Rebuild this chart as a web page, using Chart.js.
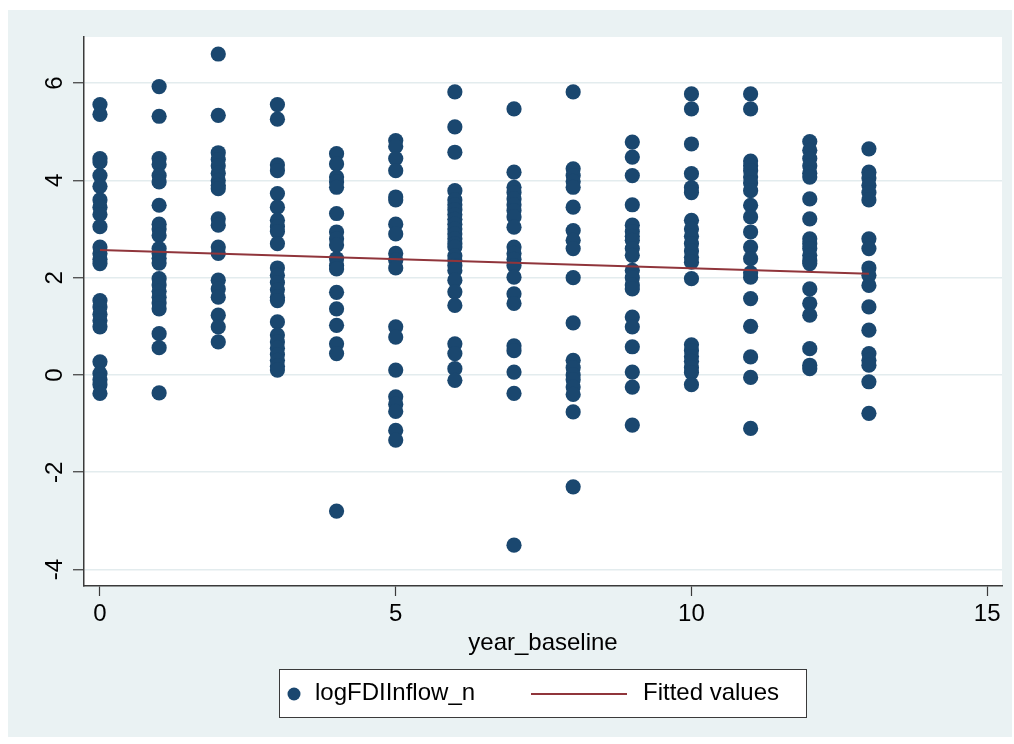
<!DOCTYPE html>
<html>
<head>
<meta charset="utf-8">
<script src="https://cdn.jsdelivr.net/npm/chart.js@4"></script>
<style>
  html, body { margin: 0; padding: 0; background: #ffffff; }
  #wrap { width: 1014px; height: 744px; position: relative; }
</style>
</head>
<body>
<div id="wrap"><canvas id="fdiChart"></canvas></div>
<script>
// year_baseline categories
const years = [0, 1, 2, 3, 4, 5, 6, 7, 8, 9, 10, 11, 12, 13];

// logFDIInflow_n values, one list per year
const logFDI = [
    [5.56, 5.36, 4.45, 4.38, 4.1, 3.88, 3.6, 3.45, 3.3, 3.05, 2.63, 2.5, 2.38, 2.29, 1.53, 1.4, 1.25, 1.12, 0.99, 0.27, 0.03, -0.1, -0.2, -0.38],
    [5.93, 5.32, 4.45, 4.33, 4.1, 3.97, 3.49, 3.1, 3.0, 2.87, 2.6, 2.5, 2.4, 2.3, 1.98, 1.85, 1.72, 1.6, 1.48, 1.36, 0.85, 0.56, -0.37],
    [6.6, 5.34, 4.57, 4.43, 4.3, 4.15, 4.0, 3.9, 3.83, 3.21, 3.08, 2.63, 2.5, 1.95, 1.77, 1.6, 1.23, 0.99, 0.68],
    [5.56, 5.26, 4.32, 4.2, 3.73, 3.45, 3.18, 3.05, 2.95, 2.7, 2.2, 2.05, 1.9, 1.75, 1.6, 1.53, 1.09, 0.82, 0.68, 0.55, 0.42, 0.3, 0.18, 0.1],
    [4.55, 4.34, 4.07, 3.97, 3.86, 3.32, 2.94, 2.8, 2.67, 2.39, 2.25, 2.18, 1.7, 1.36, 1.02, 0.64, 0.44, -2.8],
    [4.82, 4.7, 4.45, 4.2, 3.66, 3.6, 3.1, 2.9, 2.5, 2.36, 2.2, 0.99, 0.78, 0.1, -0.45, -0.6, -0.75, -1.14, -1.34],
    [5.82, 5.1, 4.58, 3.79, 3.6, 3.5, 3.4, 3.3, 3.2, 3.1, 3.0, 2.9, 2.8, 2.7, 2.63, 2.45, 2.36, 2.25, 2.15, 1.95, 1.71, 1.43, 0.64, 0.44, 0.13, -0.11],
    [5.47, 4.17, 3.86, 3.75, 3.62, 3.5, 3.38, 3.25, 3.04, 2.63, 2.5, 2.38, 2.25, 2.01, 1.67, 1.47, 0.6, 0.5, 0.06, -0.38, -3.5],
    [5.82, 4.24, 4.1, 3.98, 3.86, 3.45, 2.97, 2.77, 2.6, 2.0, 1.07, 0.3, 0.15, 0.0, -0.1, -0.25, -0.4, -0.76, -2.3],
    [4.79, 4.48, 4.1, 3.5, 3.08, 2.95, 2.85, 2.77, 2.6, 2.46, 2.15, 2.0, 1.85, 1.77, 1.19, 0.99, 0.58, 0.06, -0.25, -1.03],
    [5.78, 5.47, 4.75, 4.14, 3.85, 3.75, 3.18, 3.0, 2.85, 2.7, 2.55, 2.42, 2.32, 1.98, 0.62, 0.5, 0.38, 0.28, 0.15, 0.05, -0.2],
    [5.78, 5.47, 4.4, 4.3, 4.2, 4.07, 3.95, 3.79, 3.49, 3.25, 2.94, 2.63, 2.39, 2.1, 2.01, 1.57, 1.0, 0.37, -0.05, -1.1],
    [4.8, 4.62, 4.45, 4.3, 4.15, 4.07, 3.62, 3.21, 2.8, 2.7, 2.6, 2.46, 2.35, 2.29, 1.77, 1.47, 1.23, 0.54, 0.2, 0.13],
    [4.65, 4.17, 4.05, 3.9, 3.75, 3.6, 2.8, 2.6, 2.2, 2.05, 1.84, 1.4, 0.92, 0.44, 0.3, 0.2, -0.14, -0.79]
];

// fitted values (linear fit endpoints)
const fitX = [0, 13];
const fitY = [2.57, 2.08];

// tick labels
const xTicks = [0, 5, 10, 15];
const yTicks = [-4, -2, 0, 2, 4, 6];

const navy = '#1A476F';
const maroon = '#90353B';
const panelColor = '#EAF2F3';
const axisColor = '#3a3a3a';
const font = '"Liberation Sans", Arial, Helvetica, sans-serif';
const fontSize = 24;

const scatterPoints = [];
years.forEach((yr, i) => {
    logFDI[i].forEach(v => scatterPoints.push({ x: yr, y: v }));
});
const fitPoints = fitX.map((x, i) => ({ x: x, y: fitY[i] }));

// Stata-like background, custom rotated y labels and boxed legend
const stataLook = {
    id: 'stataLook',
    beforeDraw(chart) {
        const { ctx, chartArea } = chart;
        ctx.save();
        ctx.fillStyle = '#ffffff';
        ctx.fillRect(0, 0, chart.width, chart.height);
        ctx.fillStyle = panelColor;
        ctx.fillRect(8, 10, 1004, 727);
        ctx.fillStyle = '#ffffff';
        ctx.fillRect(chartArea.left, chartArea.top, chartArea.right - chartArea.left, chartArea.bottom - chartArea.top);
        ctx.restore();
    },
    afterDraw(chart) {
        const { ctx } = chart;
        const yScale = chart.scales.y;
        ctx.save();
        // y tick labels, rotated
        ctx.fillStyle = '#000000';
        ctx.font = fontSize + 'px ' + font;
        ctx.textAlign = 'center';
        ctx.textBaseline = 'middle';
        yScale.ticks.forEach(t => {
            const py = yScale.getPixelForValue(t.value);
            ctx.save();
            ctx.translate(55, py);
            ctx.rotate(-Math.PI / 2);
            ctx.fillText(String(t.value), 0, 0);
            ctx.restore();
        });

        // legend box
        const bx = 279, by = 669, bw = 527, bh = 48;
        ctx.fillStyle = '#ffffff';
        ctx.fillRect(bx, by, bw, bh);
        ctx.strokeStyle = axisColor;
        ctx.lineWidth = 1;
        ctx.strokeRect(bx + 0.5, by + 0.5, bw, bh);

        const dsDots = chart.data.datasets[1];
        const dsFit = chart.data.datasets[0];
        const cy = by + bh / 2;
        ctx.fillStyle = dsDots.backgroundColor;
        ctx.beginPath();
        ctx.arc(294, cy + 1, 6.5, 0, Math.PI * 2);
        ctx.fill();
        ctx.fillStyle = '#000000';
        ctx.textAlign = 'left';
        ctx.fillText(dsDots.label, 315, cy);

        ctx.strokeStyle = dsFit.borderColor;
        ctx.lineWidth = 2;
        ctx.beginPath();
        ctx.moveTo(531, cy + 1);
        ctx.lineTo(627, cy + 1);
        ctx.stroke();
        ctx.fillText(dsFit.label, 643, cy);
        ctx.restore();
    }
};

const ctxEl = document.getElementById('fdiChart');
new Chart(ctxEl, {
    type: 'scatter',
    data: {
        datasets: [
            {
                type: 'line',
                label: 'Fitted values',
                data: fitPoints,
                borderColor: maroon,
                backgroundColor: maroon,
                borderWidth: 2,
                pointRadius: 0,
                fill: false,
                order: 0
            },
            {
                label: 'logFDIInflow_n',
                data: scatterPoints,
                backgroundColor: navy,
                borderColor: navy,
                borderWidth: 0,
                pointRadius: 7.6,
                pointHoverRadius: 7.6,
                order: 1
            }
        ]
    },
    options: {
        responsive: true,
        maintainAspectRatio: false,
        animation: false,
        events: [],
        layout: { padding: { left: 0, right: 12, top: 37, bottom: 0 } },
        plugins: {
            legend: { display: false },
            tooltip: { enabled: false }
        },
        scales: {
            x: {
                type: 'linear',
                min: -0.27,
                max: 15.25,
                afterBuildTicks: axis => { axis.ticks = xTicks.map(v => ({ value: v })); },
                afterFit: axis => { axis.height = 158; },
                grid: {
                    drawOnChartArea: false,
                    drawTicks: true,
                    tickLength: 10,
                    tickColor: axisColor,
                    tickWidth: 1.2
                },
                border: { color: axisColor, width: 1.5 },
                ticks: {
                    color: '#000000',
                    padding: 4,
                    maxRotation: 0,
                    font: { family: font, size: fontSize }
                },
                title: {
                    display: true,
                    text: 'year_baseline',
                    color: '#000000',
                    font: { family: font, size: fontSize },
                    padding: { top: 0, bottom: 86 }
                }
            },
            y: {
                type: 'linear',
                min: -4.34,
                max: 6.95,
                afterBuildTicks: axis => { axis.ticks = yTicks.map(v => ({ value: v })); },
                afterFit: axis => { axis.width = 84; },
                grid: {
                    color: '#E3ECEE',
                    lineWidth: 1.5,
                    drawTicks: true,
                    tickLength: 11,
                    tickColor: axisColor,
                    tickWidth: 1.2
                },
                border: { color: axisColor, width: 1.5 },
                ticks: { display: false }
            }
        }
    },
    plugins: [stataLook]
});
</script>
</body>
</html>
